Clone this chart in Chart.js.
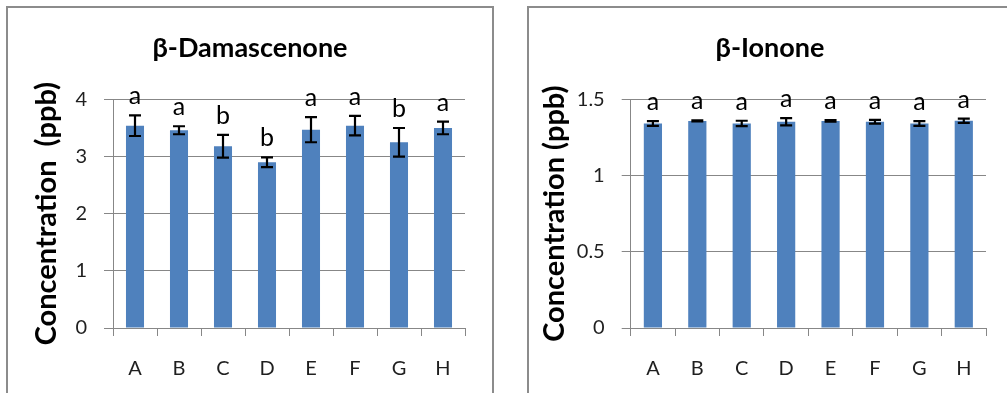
<!DOCTYPE html>
<html>
<head>
<meta charset="utf-8">
<script src="https://cdn.jsdelivr.net/npm/chart.js@4"></script>
<style>
  html, body { margin: 0; padding: 0; background: #ffffff; }
  body { width: 1007px; height: 393px; position: relative; overflow: hidden; }
  .panel { position: absolute; box-sizing: border-box; border: 2px solid #8c8c8c; border-bottom: none; background: #fff; }
  #panelLeft { left: 6px; top: 6px; width: 488px; height: 400px; }
  #panelRight { left: 527px; top: 6px; width: 500px; height: 400px; }
  canvas { position: absolute; top: 0; }
  #chartLeft { left: 0; }
  #chartRight { left: 527px; }
</style>
</head>
<body>
<div class="panel" id="panelLeft"></div>
<div class="panel" id="panelRight"></div>
<canvas id="chartLeft" width="500" height="393"></canvas>
<canvas id="chartRight" width="486" height="393"></canvas>
<script>
// Treatments
const categories = ['A', 'B', 'C', 'D', 'E', 'F', 'G', 'H'];

// β-Damascenone: mean concentration (ppb), standard error, significance group
const damascenoneMean = [3.54, 3.46, 3.18, 2.90, 3.47, 3.54, 3.25, 3.50];
const damascenoneErr = [0.18, 0.07, 0.20, 0.085, 0.22, 0.17, 0.25, 0.11];
const damascenoneGroups = ['a', 'a', 'b', 'b', 'a', 'a', 'b', 'a'];
const damascenoneTicks = [0, 1, 2, 3, 4];

// β-Ionone: mean concentration (ppb), standard error, significance group
const iononeMean = [1.342, 1.359, 1.342, 1.353, 1.359, 1.353, 1.342, 1.360];
const iononeErr = [0.016, 0.004, 0.018, 0.024, 0.005, 0.012, 0.016, 0.014];
const iononeGroups = ['a', 'a', 'a', 'a', 'a', 'a', 'a', 'a'];
const iononeTicks = [0, 0.5, 1, 1.5];

const FONT = 'Lato, "Open Sans", "Liberation Sans", sans-serif';
const GRID = '#878787';
const BAR = '#4f81bd';
const TEXT = '#1f1f1f';

// Error bars and significance letters drawn through the chart's own scales
const errorBarPlugin = {
  id: 'errorBars',
  afterDatasetsDraw(chart, args, opts) {
    const ctx = chart.ctx;
    const meta = chart.getDatasetMeta(0);
    const y = chart.scales.y;
    ctx.save();
    meta.data.forEach((bar, i) => {
      const v = opts.means[i], e = opts.errors[i];
      const x = bar.x;
      const yHi = y.getPixelForValue(v + e);
      const yLo = y.getPixelForValue(v - e);
      ctx.strokeStyle = '#000';
      ctx.lineWidth = 2.2;
      ctx.beginPath();
      ctx.moveTo(x, yHi); ctx.lineTo(x, yLo);
      ctx.moveTo(x - 6, yHi); ctx.lineTo(x + 6, yHi);
      ctx.moveTo(x - 6, yLo); ctx.lineTo(x + 6, yLo);
      ctx.stroke();
      ctx.fillStyle = '#000';
      ctx.font = '25px ' + FONT;
      ctx.textAlign = 'center';
      ctx.textBaseline = 'alphabetic';
      ctx.fillText(opts.groups[i], x, yHi - opts.gap);
    });
    ctx.restore();
  }
};

function makeChart(id, title, yTitle, means, errors, groups, ticks, pad, yWidth, yTitleOffset) {
  const yMax = ticks[ticks.length - 1];
  const step = ticks[1] - ticks[0];
  return new Chart(document.getElementById(id), {
    type: 'bar',
    data: {
      labels: categories,
      datasets: [{
        data: means,
        backgroundColor: BAR,
        borderWidth: 0,
        categoryPercentage: 1,
        barPercentage: 0.41
      }]
    },
    plugins: [errorBarPlugin],
    options: {
      responsive: false,
      animation: false,
      events: [],
      layout: { padding: { left: pad, right: pad, top: 0, bottom: 0 } },
      plugins: {
        legend: { display: false },
        tooltip: { enabled: false },
        title: {
          display: true,
          text: title,
          color: '#000',
          font: { family: FONT, size: 27, weight: 'bold', lineHeight: 1.2 },
          padding: { top: 32, bottom: 35 }
        },
        errorBars: { means: means, errors: errors, groups: groups, gap: 11 }
      },
      scales: {
        x: {
          offset: true,
          grid: { display: true, offset: true, drawOnChartArea: false, color: GRID, tickLength: 8, tickWidth: 1 },
          border: { display: true, color: GRID, width: 1 },
          ticks: { color: TEXT, font: { family: FONT, size: 20 }, padding: 21, maxRotation: 0 },
          afterFit(scale) { scale.height = 65; }
        },
        y: {
          min: 0,
          max: yMax,
          afterBuildTicks(scale) { scale.ticks = ticks.map(v => ({ value: v })); },
          grid: { color: GRID, lineWidth: 1, tickLength: 9, drawTicks: true },
          border: { display: true, color: GRID, width: 1 },
          ticks: {
            stepSize: step, color: TEXT, font: { family: FONT, size: 20 }, padding: 17,
            callback: v => String(v)
          },
          title: {
            display: true,
            text: yTitle,
            color: '#000',
            font: { family: FONT, size: 29, weight: 'bold', lineHeight: 1.2 },
            padding: { top: yTitleOffset - 17.4, bottom: 0 }
          },
          afterFit(scale) { scale.width = yWidth; }
        }
      }
    }
  });
}

makeChart('chartLeft', 'β-Damascenone', 'Concentration  (ppb)',
  damascenoneMean, damascenoneErr, damascenoneGroups, damascenoneTicks, 35, 78, 12);
makeChart('chartRight', 'β-Ionone', 'Concentration (ppb)',
  iononeMean, iononeErr, iononeGroups, iononeTicks, 27, 76.7, 1);
</script>
</body>
</html>
